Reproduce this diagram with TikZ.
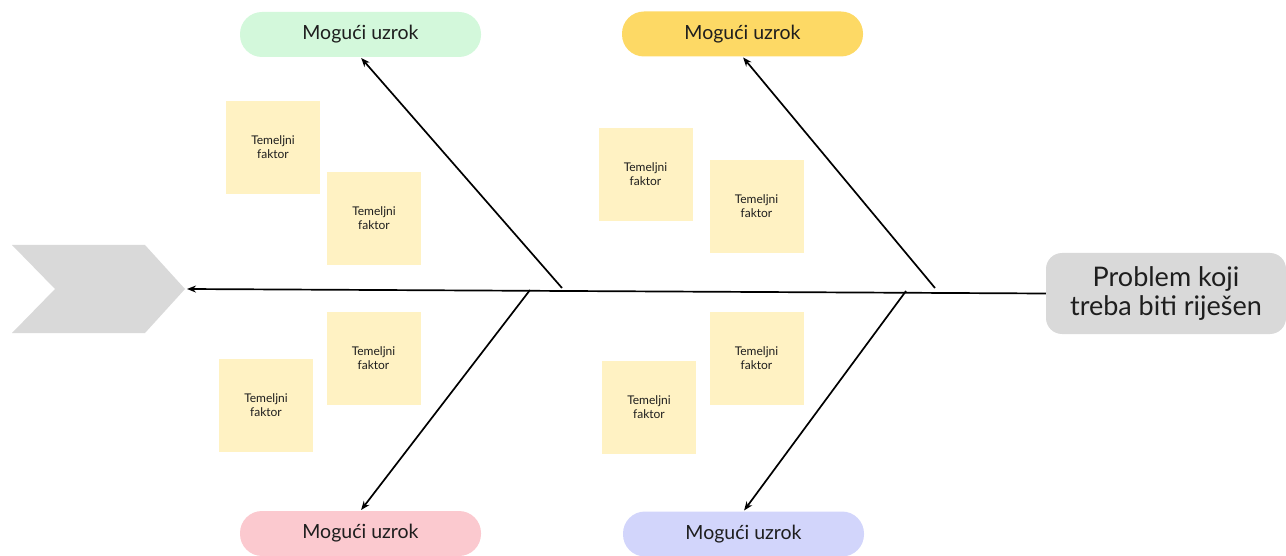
\documentclass[tikz,border=0pt]{standalone}
\usepackage{fontspec}
\setmainfont{Lato}
\usetikzlibrary{arrows.meta}
\definecolor{cgreen}{HTML}{D3F8DB}
\definecolor{cyellow}{HTML}{FDD965}
\definecolor{cpink}{HTML}{FBC9CF}
\definecolor{clav}{HTML}{D2D5FB}
\definecolor{cgray}{HTML}{D9D9D9}
\definecolor{csticky}{HTML}{FFF2C3}
\definecolor{ctext}{HTML}{1E1E1E}
\tikzset{
  cause/.style={rounded corners=22pt, minimum width=241pt, minimum height=45pt, inner sep=0pt, text=ctext, font=\fontsize{19.5}{22}\selectfont},
  sticky/.style={fill=csticky, minimum width=94pt, minimum height=93pt, inner sep=0pt, align=center, text=ctext, font=\fontsize{12}{14}\selectfont},
  bone/.style={line width=1.7pt, -{Stealth[length=9pt,width=7pt]}},
}
\begin{document}
\begin{tikzpicture}[x=1pt,y=-1pt]
\useasboundingbox (0,0) rectangle (1286,556);
% chevron
\fill[cgray] (12,245) -- (145,245) -- (185,289) -- (145,333) -- (12,333) -- (55,289) -- cycle;
\coordinate (tip) at (187,289);
% problem
\node[fill=cgray, rounded corners=16pt, minimum width=240pt, minimum height=81pt, inner sep=0pt, align=center, text=ctext, font=\fontsize{27}{29}\selectfont] (prob) at (1166,293.5) {Problem koji\\treba biti riješen};
% causes
\node[cause, fill=cgreen] (c1) at (360.5,34.5) {Mogući uzrok};
\node[cause, fill=cyellow] (c2) at (742.5,34) {Mogući uzrok};
\node[cause, fill=cpink] (c3) at (360.5,533.5) {Mogući uzrok};
\node[cause, fill=clav] (c4) at (743.5,534) {Mogući uzrok};
% stickies
\node[sticky] (s1) at (273,147.5) {Temeljni\\faktor};
\node[sticky] (s2) at (374,218.5) {Temeljni\\faktor};
\node[sticky] (s3) at (645.5,174.5) {Temeljni\\faktor};
\node[sticky] (s4) at (756.5,206.5) {Temeljni\\faktor};
\node[sticky] (s5) at (373.5,358.5) {Temeljni\\faktor};
\node[sticky] (s6) at (266,405) {Temeljni\\faktor};
\node[sticky] (s7) at (756.5,358.5) {Temeljni\\faktor};
\node[sticky] (s8) at (649,407) {Temeljni\\faktor};
% spine
\draw[bone] (prob.west) -- (tip);
% branch origins
\coordinate (b1) at (562,288);
\coordinate (b2) at (935,288);
\coordinate (b3) at (530,290);
\coordinate (b4) at (906,291);
\draw[bone, shorten >=1pt] (b1) -- (c1.south);
\draw[bone, shorten >=1pt] (b2) -- (c2.south);
\draw[bone, shorten >=1pt] (b3) -- (c3.north);
\draw[bone, shorten >=1pt] (b4) -- (c4.north);
\end{tikzpicture}
\end{document}
